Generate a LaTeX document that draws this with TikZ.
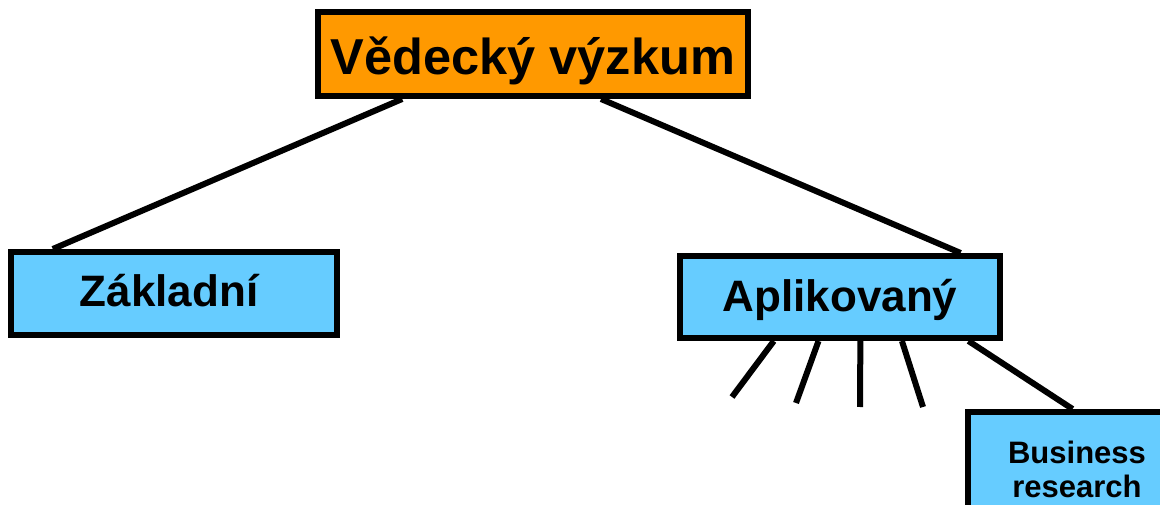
\documentclass[tikz,border=0pt]{standalone}
\usepackage{fontspec}
\setmainfont{Liberation Sans}
\usetikzlibrary{calc}
\definecolor{vyzkumorange}{RGB}{255,153,0}
\definecolor{typblue}{RGB}{102,204,255}

\begin{document}
\begin{tikzpicture}[x=1pt, y=-1pt]
        \useasboundingbox (0,0) rectangle (1160,505);
        \clip (0,0) rectangle (1160,505);
        \begin{scope}[every node/.style={rectangle,draw=black,line width=6pt,inner sep=0pt,text=black}]
            \node (V) [fill=vyzkumorange, minimum width=430pt, minimum height=84pt, text height=42pt, text depth=0pt, font=\bfseries\fontsize{50.5}{60}\selectfont] at (533, 54) {Vědecký výzkum};
            \node (Z) [fill=typblue, minimum width=326pt, minimum height=83pt, text height=33pt, text depth=6pt, font=\bfseries\fontsize{44}{52}\selectfont] at (174, 293.5) {Základní\kern10pt};
            \node (A) [fill=typblue, minimum width=320pt, minimum height=82pt, text height=33pt, text depth=3.5pt, font=\bfseries\fontsize{44}{52}\selectfont] at (840, 297) {Aplikovaný};
            \node (B) [fill=typblue, minimum width=218pt, minimum height=114pt, align=center, font=\bfseries\fontsize{31}{34}\selectfont] at (1077, 469) {Business\\research};
        \end{scope}

        \coordinate (f1) at (732, 397);
        \coordinate (f2) at (796, 403);
        \coordinate (f3) at (860, 407);
        \coordinate (f4) at (923, 407);

        \begin{scope}[every edge/.style={draw=black,line width=6pt}]
            \path ($(V.south west)!0.2!(V.south east)$) edge ($(Z.north west)!0.135!(Z.north east)$);
            \path ($(V.south west)!0.656!(V.south east)$) edge ($(A.north west)!0.87!(A.north east)$);
            \path ($(A.south west)!0.297!(A.south east)$) edge (f1);
            \path ($(A.south west)!0.434!(A.south east)$) edge (f2);
            \path ($(A.south west)!0.5625!(A.south east)$) edge (f3);
            \path ($(A.south west)!0.69!(A.south east)$) edge (f4);
            \path ($(A.south west)!0.894!(A.south east)$) edge ($(B.north west)!0.48!(B.north east)$);
        \end{scope}
    \end{tikzpicture}
\end{document}
